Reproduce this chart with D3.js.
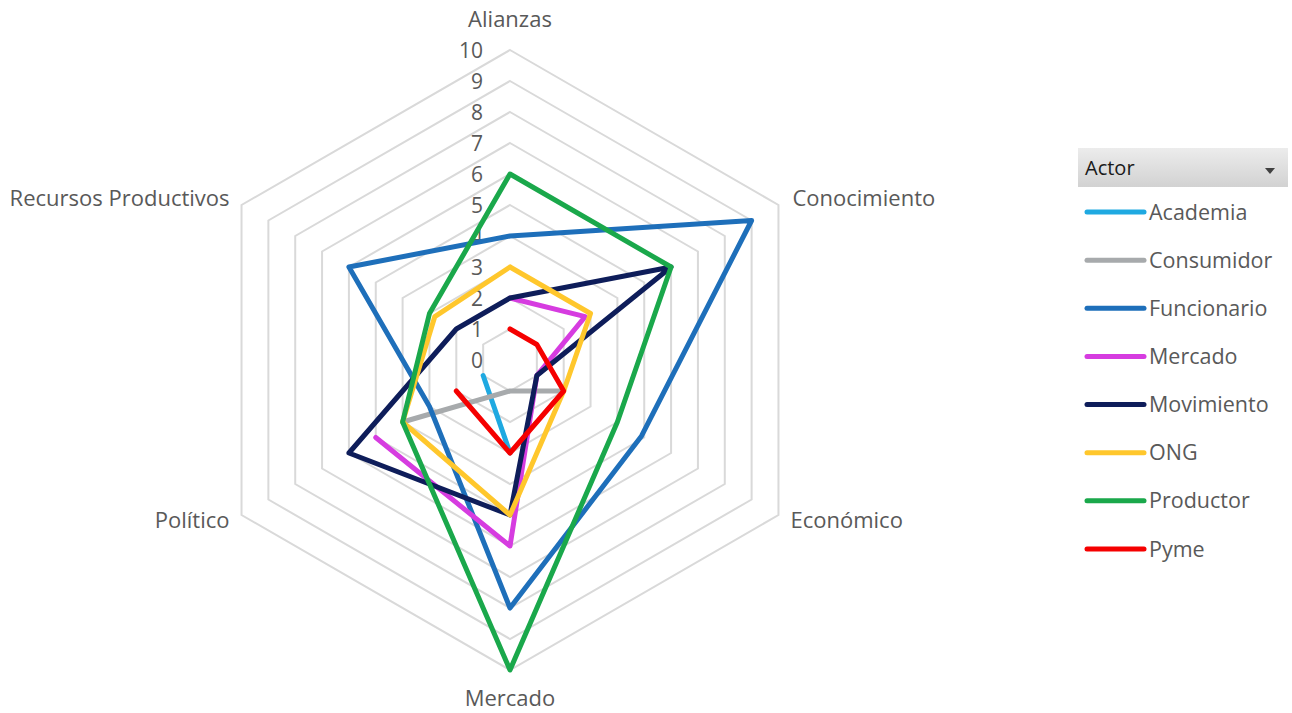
<!DOCTYPE html>
<html><head><meta charset="utf-8">
<script src="https://cdn.jsdelivr.net/npm/d3@7"></script>
<style>body{margin:0;background:#fff;} svg{display:block;}</style>
</head><body><svg id="c" width="1292" height="713"></svg>
<script>
const axes = ["Alianzas","Conocimiento","Económico","Mercado","Político","Recursos Productivos"];
const seriesNames = ["Academia","Consumidor","Funcionario","Mercado","Movimiento","ONG","Productor","Pyme"];
const academia    = [null, null, null, 3, 1, null];
const consumidor  = [null, null, 2, 1, 4, null];
const funcionario = [4, 9, 4.9, 8, 3, 6];
const mercado     = [2, 2.8, 1, 6, 5, null];
const movimiento  = [2, 6, 1, 5, 6, 2];
const ong         = [3, 3, 2, 5, 4, 2.8];
const productor   = [6, 6, 4, 10, 4, 3];
const pyme        = [1, 1, 2, 3, 2, null];
const seriesValues = [academia, consumidor, funcionario, mercado, movimiento, ong, productor, pyme];
const colors = ["#1fa9e1","#a7aaac","#1e6fba","#d63ce0","#0e1d5a","#ffc72c","#1aa84b","#f50000"];
const ticks = [0,1,2,3,4,5,6,7,8,9,10];

const svg = d3.select("#c");
const cx = 510, cy = 360, R = 310;
const r = d3.scaleLinear().domain([0,10]).range([0,R]);
const ang = d3.scalePoint().domain(axes).range([0, 2*Math.PI*5/6]);
const pt = (a, v) => [cx + r(v)*Math.sin(ang(a)), cy - r(v)*Math.cos(ang(a))];
const font = "'Open Sans', 'Noto Sans', sans-serif";

// grid rings
const g = svg.append("g");
ticks.filter(t => t > 0).forEach(t => {
  g.append("path")
    .attr("d", d3.line()(axes.map(a => pt(a, t))) + "Z")
    .attr("fill","none").attr("stroke","#d9d9d9").attr("stroke-width",2);
});

// tick labels
svg.append("g").selectAll("text").data(ticks).join("text")
  .attr("x", cx - 27).attr("y", d => cy - r(d))
  .attr("dy","0.36em").attr("text-anchor","end")
  .attr("font-family", font).attr("font-size", 21).attr("fill","#595959")
  .text(d => d);

// axis labels
const labelPos = {
  "Alianzas": {dx:0, dy:-31, anchor:"middle"},
  "Conocimiento": {dx:14, dy:-7, anchor:"start"},
  "Económico": {dx:12, dy:5, anchor:"start"},
  "Mercado": {dx:0, dy:28, anchor:"middle"},
  "Político": {dx:-12, dy:5, anchor:"end"},
  "Recursos Productivos": {dx:-12, dy:-7, anchor:"end"}
};
axes.forEach(a => {
  const p = pt(a, 10), o = labelPos[a];
  svg.append("text").attr("x", p[0]+o.dx).attr("y", p[1]+o.dy)
    .attr("dy","0.35em").attr("text-anchor", o.anchor)
    .attr("font-family", font).attr("font-size", 22).attr("fill","#595959")
    .text(a);
});

// series
const lineGen = d3.line().defined(d => d.v !== null).x(d => d.p[0]).y(d => d.p[1]);
seriesValues.forEach((vals, i) => {
  const pts = axes.map((a, k) => ({v: vals[k], p: vals[k] === null ? [0,0] : pt(a, vals[k])}));
  pts.push(pts[0]);
  svg.append("path").attr("d", lineGen(pts))
    .attr("fill","none").attr("stroke", colors[i]).attr("stroke-width", 5)
    .attr("stroke-linejoin","round").attr("stroke-linecap","round");
});

// legend
const lg = svg.append("g");
const grad = svg.append("defs").append("linearGradient").attr("id","hg").attr("x1",0).attr("y1",0).attr("x2",0).attr("y2",1);
grad.append("stop").attr("offset","0%").attr("stop-color","#ececec");
grad.append("stop").attr("offset","100%").attr("stop-color","#d2d2d2");
lg.append("rect").attr("x",1078).attr("y",148).attr("width",210).attr("height",39).attr("fill","url(#hg)");
lg.append("text").attr("x",1085).attr("y",168).attr("dy","0.35em")
  .attr("font-family", font).attr("font-size",20).attr("fill","#1a1a1a").text("Actor");
lg.append("path").attr("d","M1265,168 L1275,168 L1270,174 Z").attr("fill","#404040");
const ly = d3.scalePoint().domain(seriesNames).range([212, 549]);
seriesNames.forEach((n, i) => {
  lg.append("line").attr("x1",1087).attr("x2",1144).attr("y1",ly(n)).attr("y2",ly(n))
    .attr("stroke", colors[i]).attr("stroke-width",5).attr("stroke-linecap","round");
  lg.append("text").attr("x",1149).attr("y",ly(n)).attr("dy","0.35em")
    .attr("font-family", font).attr("font-size",21.5).attr("fill","#595959").text(n);
});
</script></body></html>
